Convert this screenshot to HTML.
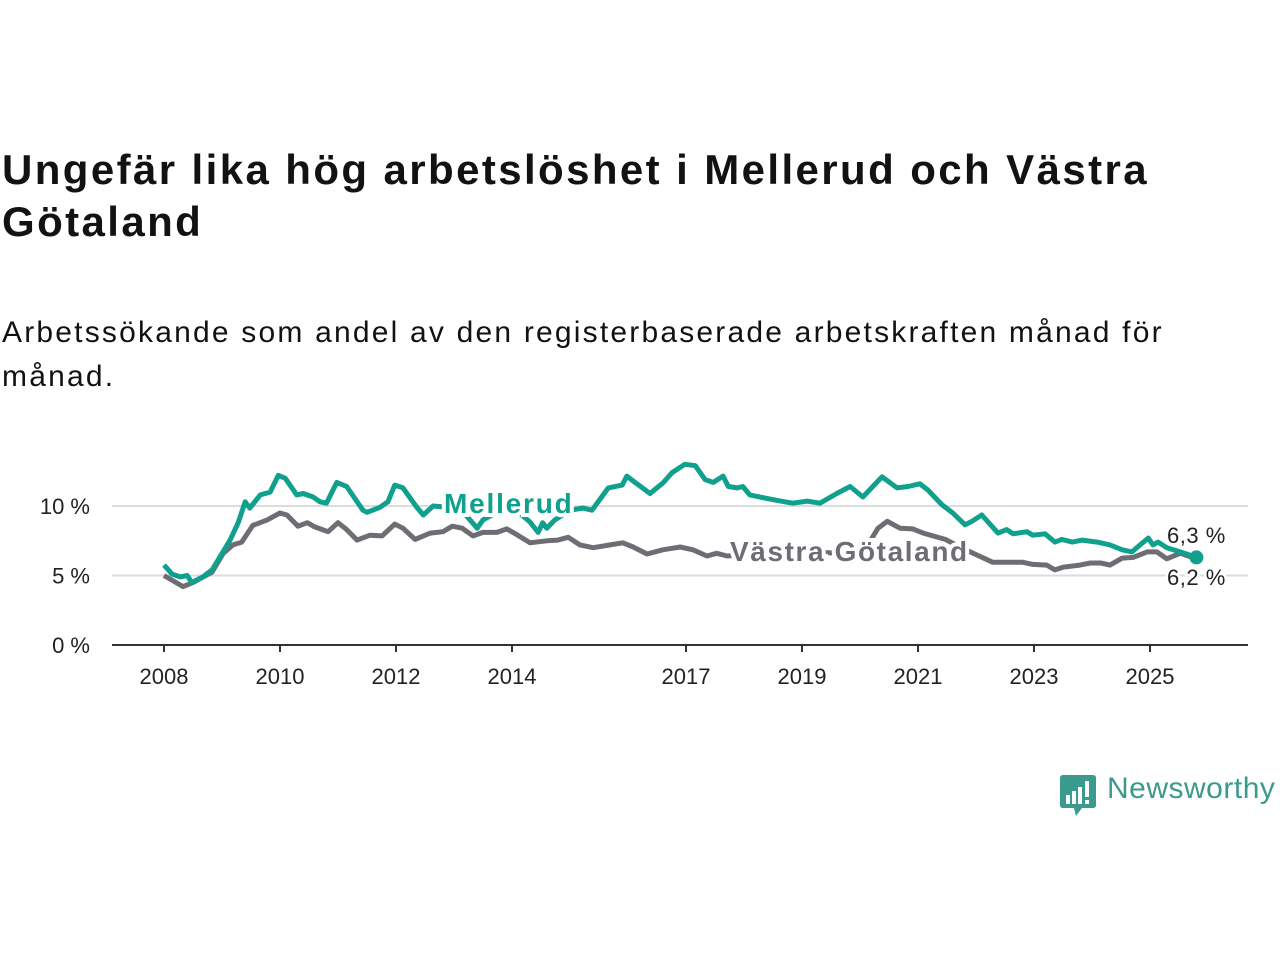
<!DOCTYPE html>
<html><head><meta charset="utf-8">
<style>
body{margin:0;background:#fff;width:1280px;height:960px;overflow:hidden;font-family:"Liberation Sans",sans-serif;}
h1{position:absolute;left:2px;top:144px;margin:0;font-size:42px;line-height:52px;font-weight:bold;color:#121212;width:1270px;letter-spacing:2.4px;}
.sub{position:absolute;left:2px;top:311px;margin:0;font-size:30px;line-height:44px;color:#121212;width:1270px;letter-spacing:2.2px;}
svg{position:absolute;left:0;top:0;}
.logo{position:absolute;left:1060px;top:775px;}
.logotext{position:absolute;left:1107px;top:772px;font-size:30px;color:#3a9a8e;letter-spacing:0.5px;}
</style></head><body>
<h1>Ungefär lika hög arbetslöshet i Mellerud och Västra<br>Götaland</h1>
<p class="sub">Arbetssökande som andel av den registerbaserade arbetskraften månad för<br>månad.</p>
<svg id="chart" width="1280" height="960"></svg>
<svg class="logo" width="36" height="42">
<path d="M0 3 Q0 0 3 0 H33 Q36 0 36 3 V30 Q36 33 33 33 H22 L16 41 L14 33 H3 Q0 33 0 30 Z" fill="#3a9a8e"/>
<rect x="6" y="20" width="4" height="9" fill="#fff"/><rect x="12" y="16" width="4" height="13" fill="#fff"/><rect x="18" y="12" width="4" height="17" fill="#fff"/><rect x="25" y="6" width="4" height="16" fill="#fff"/><rect x="25" y="25" width="4" height="4" fill="#fff"/>
</svg>
<div class="logotext">Newsworthy</div>
<script>
const yTicks=[0,5,10];
const xTicks=[2008,2010,2012,2014,2017,2019,2021,2023,2025];
const mellerudT=[2008.0,2008.14,2008.28,2008.4,2008.48,2008.67,2008.83,2009.14,2009.28,2009.4,2009.48,2009.66,2009.83,2009.97,2010.09,2010.29,2010.4,2010.57,2010.69,2010.8,2010.98,2011.15,2011.43,2011.5,2011.72,2011.86,2011.98,2012.12,2012.36,2012.47,2012.64,2012.9,2013.15,2013.4,2013.5,2013.8,2014.1,2014.31,2014.45,2014.53,2014.6,2014.74,2015.0,2015.22,2015.38,2015.66,2015.9,2015.98,2016.12,2016.38,2016.6,2016.76,2016.98,2017.16,2017.33,2017.47,2017.64,2017.73,2017.88,2017.98,2018.1,2018.33,2018.57,2018.84,2019.09,2019.31,2019.6,2019.83,2020.05,2020.38,2020.64,2020.83,2021.03,2021.17,2021.41,2021.6,2021.81,2021.93,2022.1,2022.38,2022.53,2022.64,2022.88,2022.98,2023.19,2023.36,2023.48,2023.66,2023.83,2024.09,2024.31,2024.52,2024.69,2024.83,2024.97,2025.05,2025.14,2025.29,2025.52,2025.8];
const mellerudV=[5.75,5.1,4.9,5.0,4.5,4.9,5.4,7.55,8.8,10.3,9.85,10.8,11.0,12.2,12.0,10.8,10.9,10.65,10.3,10.2,11.7,11.4,9.7,9.55,9.9,10.3,11.5,11.3,9.9,9.35,10.0,9.9,9.6,8.4,9.0,9.7,9.6,8.85,8.1,8.8,8.4,9.0,9.7,9.85,9.7,11.3,11.5,12.15,11.7,10.9,11.65,12.4,13.0,12.9,11.9,11.7,12.15,11.4,11.3,11.4,10.8,10.6,10.4,10.2,10.35,10.2,10.9,11.4,10.65,12.1,11.3,11.4,11.6,11.15,10.1,9.5,8.65,8.9,9.35,8.05,8.3,8.0,8.15,7.9,8.0,7.4,7.6,7.4,7.55,7.4,7.2,6.85,6.7,7.2,7.7,7.2,7.4,7.0,6.7,6.3];
const vgT=[2008.0,2008.33,2008.5,2008.83,2009.02,2009.19,2009.34,2009.53,2009.78,2010.0,2010.12,2010.31,2010.47,2010.6,2010.83,2011.0,2011.15,2011.33,2011.55,2011.76,2011.98,2012.12,2012.33,2012.59,2012.81,2012.97,2013.14,2013.33,2013.5,2013.74,2013.91,2014.1,2014.31,2014.6,2014.79,2014.97,2015.17,2015.4,2015.69,2015.91,2016.09,2016.33,2016.6,2016.9,2017.12,2017.36,2017.53,2017.71,2018.0,2018.4,2018.8,2019.2,2019.6,2020.0,2020.15,2020.31,2020.47,2020.69,2020.91,2021.09,2021.47,2021.7,2021.95,2022.29,2022.81,2022.98,2023.22,2023.36,2023.5,2023.79,2023.97,2024.15,2024.31,2024.52,2024.71,2024.95,2025.12,2025.29,2025.52,2025.8];
const vgV=[5.0,4.2,4.5,5.25,6.6,7.2,7.4,8.6,9.0,9.5,9.35,8.55,8.8,8.5,8.15,8.8,8.3,7.55,7.9,7.85,8.7,8.4,7.6,8.05,8.15,8.55,8.4,7.85,8.1,8.1,8.35,7.9,7.35,7.5,7.55,7.75,7.2,7.0,7.2,7.35,7.05,6.55,6.85,7.05,6.85,6.4,6.6,6.4,6.5,6.6,6.5,6.7,6.6,6.7,7.3,8.4,8.9,8.4,8.35,8.05,7.6,7.1,6.6,5.95,5.95,5.8,5.75,5.4,5.6,5.75,5.9,5.9,5.75,6.25,6.3,6.7,6.7,6.2,6.6,6.2];
const NS="http://www.w3.org/2000/svg";
const svg=document.getElementById('chart');
const x=t=>164+(t-2008)*58;
const y=v=>645-v*13.9;
function mk(tag,attrs){const e=document.createElementNS(NS,tag);for(const k in attrs)e.setAttribute(k,attrs[k]);svg.appendChild(e);return e;}
yTicks.forEach(v=>{
  if(v>0){const g=mk('line',{x1:112,x2:1248,y1:y(v),y2:y(v),stroke:'#dcdcdc','stroke-width':2});
  
  }
  const t=mk('text',{x:90,y:y(v)+8,'text-anchor':'end','font-size':22,fill:'#222'});
  t.textContent=v+' %';
  
  
});
const ax=mk('line',{x1:112,x2:1248,y1:645,y2:645,stroke:'#333','stroke-width':2});


xTicks.forEach(yr=>{
  const tk=mk('line',{x1:x(yr),x2:x(yr),y1:645,y2:652,stroke:'#333','stroke-width':2});
  
  
  const t=mk('text',{x:x(yr),y:684,'text-anchor':'middle','font-size':22,fill:'#222'});
  t.textContent=yr;
  
  
});
function path(T,V){return T.map((t,i)=>(i?'L':'M')+x(t).toFixed(1)+' '+y(V[i]).toFixed(1)).join(' ');}
const gl=mk('path',{d:path(vgT,vgV),fill:'none',stroke:'#6e6d73','stroke-width':5,'stroke-linejoin':'round'});


const ml=mk('path',{d:path(mellerudT,mellerudV),fill:'none',stroke:'#0fa08e','stroke-width':5,'stroke-linejoin':'round'});


const lastM=mellerudV.length-1;
const dot=mk('circle',{cx:x(mellerudT[lastM]),cy:y(mellerudV[lastM]),r:7,fill:'#0fa08e'});


function lbl(txt,xx,yy,col,name,size,bold,ls){
  const t=mk('text',{x:xx,y:yy,'font-size':size,'font-weight':bold?'bold':'normal',fill:col,stroke:'#fff','stroke-width':bold?8:5,'paint-order':'stroke','letter-spacing':ls});
  t.textContent=txt;
  
  
}
lbl('Mellerud',444,513,'#0fa08e','mellerud-label',28,true,1.8);
lbl('Västra Götaland',730,561,'#6e6d73','vastra-gotaland-label',28,true,1.6);
lbl('6,3 %',1167,543,'#222','mellerud-end-value',22,false,0.5);
lbl('6,2 %',1167,585,'#222','vastra-gotaland-end-value',22,false,0.5);
</script>
</body></html>
